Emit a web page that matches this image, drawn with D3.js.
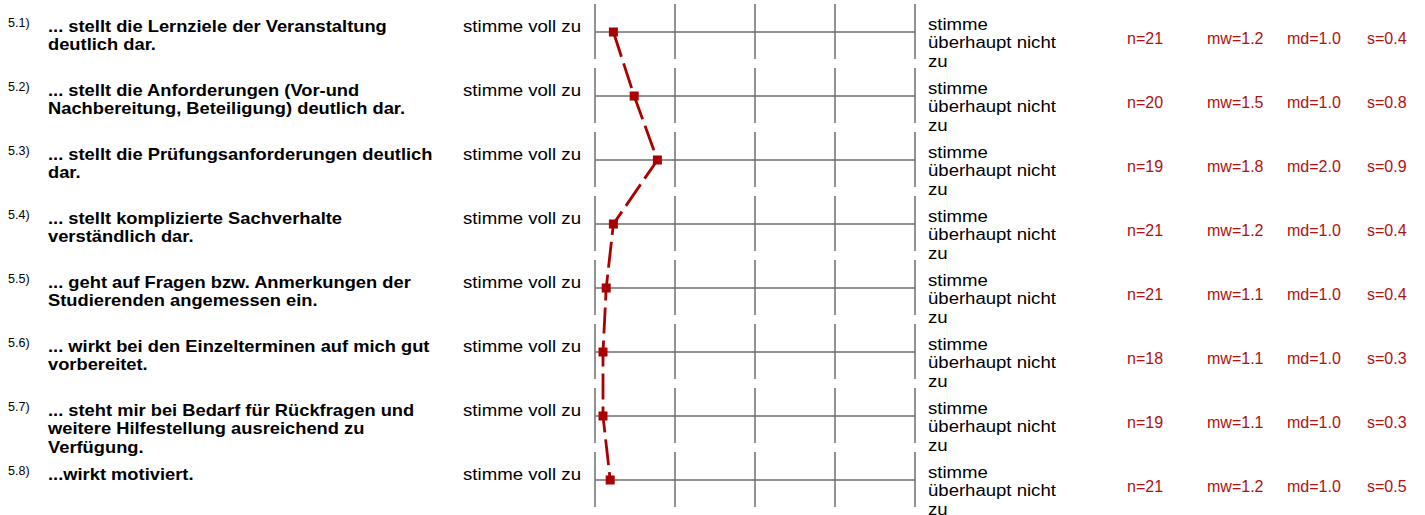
<!DOCTYPE html>
<html>
<head>
  <title>Profillinie</title>
  <style>
    body {
      margin: 0;
      padding: 0;
      background-color: #fff;
      font-family: Arial, "Liberation Sans", sans-serif;
    }
  </style>
</head>
<body>
  <div id="chartContainer"></div>

  <script src="https://d3js.org/d3.v7.min.js"></script>
  <script>
    var ids = ["5.1)", "5.2)", "5.3)", "5.4)", "5.5)", "5.6)", "5.7)", "5.8)"];
    var questions = [
      ["... stellt die Lernziele der Veranstaltung", "deutlich dar."],
      ["... stellt die Anforderungen (Vor-und", "Nachbereitung, Beteiligung) deutlich dar."],
      ["... stellt die Prüfungsanforderungen deutlich", "dar."],
      ["... stellt komplizierte Sachverhalte", "verständlich dar."],
      ["... geht auf Fragen bzw. Anmerkungen der", "Studierenden angemessen ein."],
      ["... wirkt bei den Einzelterminen auf mich gut", "vorbereitet."],
      ["... steht mir bei Bedarf für Rückfragen und", "weitere Hilfestellung ausreichend zu", "Verfügung."],
      ["...wirkt motiviert."]
    ];
    var leftPole = "stimme voll zu";
    var rightPole = ["stimme", "überhaupt nicht", "zu"];
    var scaleSteps = [1, 2, 3, 4, 5];
    var means = [1.23, 1.49, 1.78, 1.23, 1.14, 1.10, 1.10, 1.19];
    var nValues = ["21", "20", "19", "21", "21", "18", "19", "21"];
    var mwValues = ["1.2", "1.5", "1.8", "1.2", "1.1", "1.1", "1.1", "1.2"];
    var mdValues = ["1.0", "1.0", "2.0", "1.0", "1.0", "1.0", "1.0", "1.0"];
    var sValues = ["0.4", "0.8", "0.9", "0.4", "0.4", "0.3", "0.3", "0.5"];

    var width = 1425, height = 515;
    var red = "#aa0000";

    var svg = d3.select("#chartContainer")
      .append("svg")
      .attr("width", width)
      .attr("height", height);

    var x = d3.scaleLinear().domain([1, 5]).range([595, 915]);
    var y = d3.scalePoint().domain(ids).range([32, 480]);

    var rows = svg.selectAll("g.row")
      .data(ids)
      .enter()
      .append("g")
      .attr("class", "row")
      .attr("transform", function (d) { return "translate(0," + y(d) + ")"; });

    // item number
    rows.append("text")
      .attr("x", 8)
      .attr("y", -5)
      .style("font-size", "12.5px")
      .style("fill", "#000")
      .text(function (d) { return d; });

    // question text (the source font runs wider, so stretch horizontally)
    rows.append("text")
      .attr("transform", "translate(48,0) scale(1.145,1)")
      .style("font-size", "16px")
      .style("font-weight", "bold")
      .style("fill", "#000")
      .selectAll("tspan")
      .data(function (d, i) { return questions[i]; })
      .enter()
      .append("tspan")
      .attr("x", 0)
      .attr("dy", function (d, i) { return i === 0 ? 0 : 18.3; })
      .text(function (d) { return d; });

    // left pole
    rows.append("text")
      .attr("transform", "translate(463,0) scale(1.165,1)")
      .style("font-size", "16px")
      .style("fill", "#000")
      .text(leftPole);

    // right pole
    rows.append("text")
      .attr("transform", "translate(928,-2) scale(1.16,1)")
      .style("font-size", "16px")
      .style("fill", "#000")
      .selectAll("tspan")
      .data(rightPole)
      .enter()
      .append("tspan")
      .attr("x", 0)
      .attr("dy", function (d, i) { return i === 0 ? 0 : 18.5; })
      .text(function (d) { return d; });

    // grid
    rows.selectAll("line.tick")
      .data(scaleSteps)
      .enter()
      .append("line")
      .attr("class", "tick")
      .attr("x1", function (d) { return x(d); })
      .attr("x2", function (d) { return x(d); })
      .attr("y1", -28)
      .attr("y2", 27)
      .attr("stroke", "#6e6e6e")
      .attr("stroke-width", 1.5);

    rows.append("line")
      .attr("x1", x(1))
      .attr("x2", x(5))
      .attr("y1", 0)
      .attr("y2", 0)
      .attr("stroke", "#6e6e6e")
      .attr("stroke-width", 1.5);

    // statistics
    var stats = [
      { x: 1127, label: "n=", vals: nValues },
      { x: 1207, label: "mw=", vals: mwValues },
      { x: 1287, label: "md=", vals: mdValues },
      { x: 1367, label: "s=", vals: sValues }
    ];
    stats.forEach(function (st) {
      rows.append("text")
        .attr("x", st.x)
        .attr("y", 11.5)
        .style("font-size", "16px")
        .style("fill", "#b01010")
        .text(function (d, i) { return st.label + st.vals[i]; });
    });

    // profile line
    var line = d3.line()
      .x(function (d) { return x(d); })
      .y(function (d, i) { return y(ids[i]); });

    svg.append("path")
      .datum(means)
      .attr("d", line)
      .attr("fill", "none")
      .attr("stroke", red)
      .attr("stroke-width", 2.8)
      .attr("stroke-dasharray", "26,7");

    svg.selectAll("rect.marker")
      .data(means)
      .enter()
      .append("rect")
      .attr("class", "marker")
      .attr("x", function (d) { return x(d) - 4.5; })
      .attr("y", function (d, i) { return y(ids[i]) - 4.5; })
      .attr("width", 9)
      .attr("height", 9)
      .attr("fill", red);
  </script>
</body>
</html>
